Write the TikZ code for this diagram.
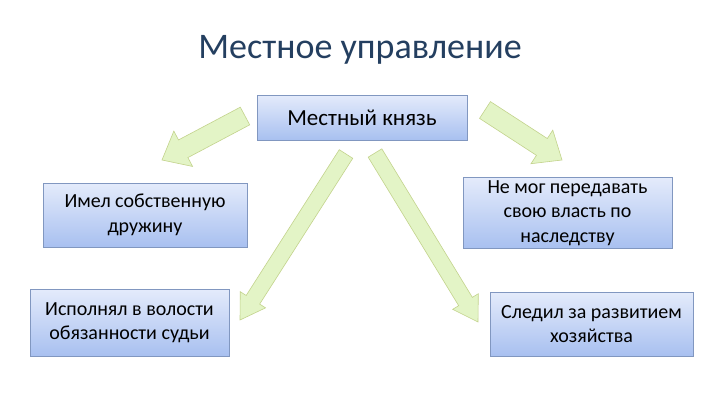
\documentclass[tikz,border=0pt]{standalone}
\usepackage{fontspec}
\setmainfont{Carlito}
\usetikzlibrary{calc}
\definecolor{titlecol}{HTML}{243F60}
\definecolor{boxtop}{HTML}{E4EBFB}
\definecolor{boxbot}{HTML}{A8C0F0}
\definecolor{boxline}{HTML}{8197C0}
\definecolor{arrfill}{HTML}{E3F4C6}
\definecolor{arrline}{HTML}{C3D38C}
\tikzset{
  infobox/.style={draw=boxline, line width=0.6pt, top color=boxtop, bottom color=boxbot,
    inner sep=0pt, align=center, font=\fontsize{20}{24.5}\selectfont, text=black},
  blockarr/.style={fill=arrfill, draw=arrline, line width=0.6pt, line join=miter},
}
\newcommand\blockarrow[5]{% tail, tip, half shaft, half head, head length
  \path[blockarr]
    ($(#1)!#3!90:(#2)$) --
    ($($(#2)!#5!(#1)$)!#3!-90:(#1)$) --
    ($($(#2)!#5!(#1)$)!#4!-90:(#1)$) --
    (#2) --
    ($($(#2)!#5!(#1)$)!#4!90:(#1)$) --
    ($($(#2)!#5!(#1)$)!#3!90:(#1)$) --
    ($(#1)!#3!-90:(#2)$) -- cycle;
}
\begin{document}
\begin{tikzpicture}[x=1pt,y=-1pt]
\useasboundingbox[fill=white] (0,0) rectangle (720,405);
\node[text=titlecol, font=\fontsize{36}{42}\selectfont] (title) at (360,50) {Местное управление};
\node[infobox, minimum width=210pt, minimum height=45pt, font=\fontsize{23}{28}\selectfont] (prince) at (362,117.5) {Местный князь};
\node[infobox, minimum width=204pt, minimum height=64pt] (b1) at (145,215) {Имел собственную\\дружину};
\node[infobox, minimum width=209pt, minimum height=71pt] (b2) at (567.5,213) {Не мог передавать\\свою власть по\\наследству};
\node[infobox, minimum width=199pt, minimum height=67pt] (b3) at (129.5,322.5) {Исполнял в волости\\обязанности судьи};
\node[infobox, minimum width=203pt, minimum height=64pt] (b4) at (591.5,324) {Следил за развитием\\хозяйства};
\coordinate (t1) at (245,116); \coordinate (p1) at (162,160);
\coordinate (t2) at (485,110); \coordinate (p2) at (562,160);
\coordinate (t3) at (346,154); \coordinate (p3) at (240,320);
\coordinate (t4) at (375,153); \coordinate (p4) at (478,322);
\blockarrow{t1}{p1}{10pt}{20pt}{24pt}
\blockarrow{t2}{p2}{10pt}{20pt}{24pt}
\blockarrow{t3}{p3}{8pt}{15pt}{24pt}
\blockarrow{t4}{p4}{8pt}{15pt}{24pt}
\end{tikzpicture}
\end{document}
